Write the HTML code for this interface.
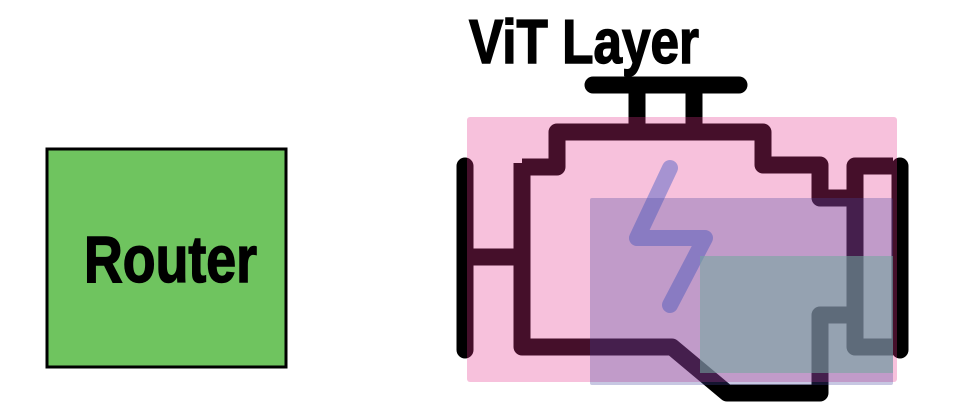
<!DOCTYPE html>
<html><head><meta charset="utf-8"><style>
html,body{margin:0;padding:0;background:#fff;width:954px;height:418px;overflow:hidden}
svg{display:block}
</style></head><body>
<svg width="954" height="418" viewBox="0 0 954 418">
  <g>
    <rect x="47" y="149" width="239" height="218" fill="#6fc45f" stroke="#000" stroke-width="3"/>
    <text x="84" y="282" font-family="Liberation Sans, sans-serif" font-weight="bold" font-size="66" textLength="173" lengthAdjust="spacingAndGlyphs" fill="#000" stroke="#000" stroke-width="1.5">Router</text>
  </g>
  <text x="469" y="63" font-family="Liberation Sans, sans-serif" font-weight="bold" font-size="62" textLength="230" lengthAdjust="spacingAndGlyphs" fill="#000" stroke="#000" stroke-width="1.5">ViT Layer</text>
  <g stroke="#000" stroke-width="17" fill="none">
    <line x1="593" y1="85" x2="739" y2="85" stroke-linecap="round"/>
    <line x1="637" y1="85" x2="637" y2="132"/>
    <line x1="694" y1="85" x2="694" y2="132"/>
    <polyline points="522,167 557,167 557,132 763,132 763,165 820,165 820,198 855,198" stroke-linejoin="round"/>
    <polyline points="893,166 855,166 855,347 893,347" stroke-linejoin="round"/>
    <polyline points="522,163 522,347 672,347 727,393 820,393 820,315 855,315" stroke-linejoin="round"/>
    <line x1="465" y1="166" x2="465" y2="350" stroke-linecap="round"/>
    <line x1="465" y1="257" x2="522" y2="257"/>
    <line x1="900" y1="166" x2="900" y2="350" stroke-linecap="round"/>
  </g>
  <rect x="467" y="117" width="430" height="265" rx="3" fill="rgb(230,50,140)" fill-opacity="0.3"/>
  <polyline points="670,168 637,238 705,238 670,305" fill="none" stroke="rgb(100,110,200)" stroke-opacity="0.55" stroke-width="16" stroke-linecap="round" stroke-linejoin="round"/>
  <rect x="590" y="198" width="303" height="187" rx="2" fill="rgb(68,68,160)" fill-opacity="0.3"/>
  <rect x="700" y="256" width="193" height="117" fill="rgb(114,168,159)" fill-opacity="0.56"/>
</svg>
</body></html>
